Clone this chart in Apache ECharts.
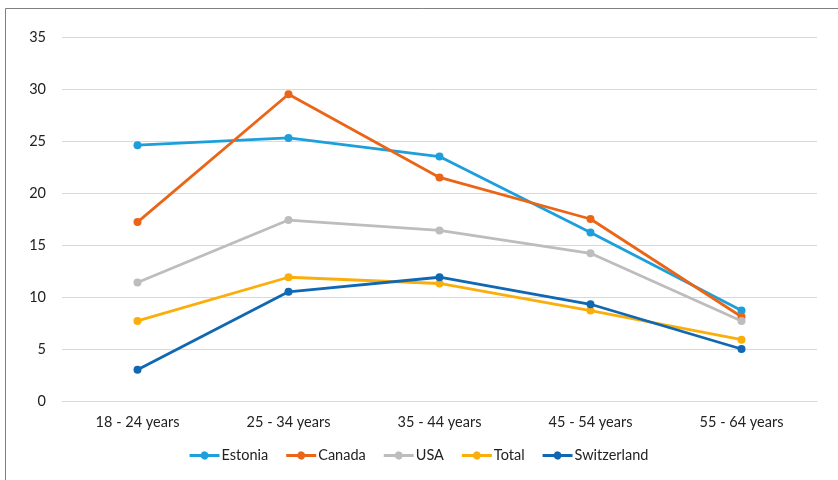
<!DOCTYPE html>
<html>
<head>
<meta charset="utf-8">
<script src="https://cdn.jsdelivr.net/npm/echarts@6/dist/echarts.min.js"></script>
<style>
  html, body { margin: 0; padding: 0; background: #fff; }
  #chart { width: 838px; height: 480px; }
</style>
</head>
<body>
<div id="chart"></div>
<script>
const ageGroups = ['18 - 24 years', '25 - 34 years', '35 - 44 years', '45 - 54 years', '55 - 64 years'];
const estonia = [24.6, 25.3, 23.5, 16.2, 8.7];
const canada = [17.2, 29.5, 21.5, 17.5, 8.1];
const usa = [11.4, 17.4, 16.4, 14.2, 7.7];
const total = [7.7, 11.9, 11.3, 8.7, 5.9];
const switzerland = [3.0, 10.5, 11.9, 9.3, 5.0];

const seriesDefs = [
  { name: 'Estonia', data: estonia, color: '#1c9fdb' },
  { name: 'Canada', data: canada, color: '#eb6517' },
  { name: 'USA', data: usa, color: '#bdbdbd' },
  { name: 'Total', data: total, color: '#fbae0a' },
  { name: 'Switzerland', data: switzerland, color: '#1068b2' }
];

// legend icon: thick line segment with a round marker in the middle
const lineMarkerIcon = 'path://M0,3.5 L11.29,3.5 A4,4 0 0,1 18.71,3.5 L30,3.5 L30,6.5 L18.71,6.5 A4,4 0 0,1 11.29,6.5 L0,6.5 Z';

const font = 'Lato, "Open Sans", sans-serif';
const chart = echarts.init(document.getElementById('chart'), null, { renderer: 'canvas' });
chart.setOption({
  animation: false,
  textStyle: { fontFamily: font },
  graphic: [{
    type: 'rect',
    shape: { x: 5.5, y: 8.5, width: 840, height: 480 },
    style: { fill: 'none', stroke: '#7f7f7f', lineWidth: 1 },
    silent: true
  }],
  grid: { left: 62, right: 21, top: 37, bottom: 79 },
  legend: {
    bottom: 12,
    left: 'center',
    itemWidth: 30,
    itemHeight: 8,
    itemGap: 18,
    textStyle: { fontSize: 14.5, color: '#222', fontFamily: font, padding: [0, 0, 0, -3] },
    data: seriesDefs.map(s => ({ name: s.name, icon: lineMarkerIcon }))
  },
  xAxis: {
    type: 'category',
    data: ageGroups,
    boundaryGap: true,
    axisLine: { show: true, lineStyle: { color: '#d9d9d9' } },
    axisTick: { show: false },
    axisLabel: { fontSize: 14.5, color: '#222', margin: 14, fontFamily: font }
  },
  yAxis: {
    type: 'value',
    min: 0,
    max: 35,
    interval: 5,
    axisLine: { show: false },
    axisTick: { show: false },
    splitLine: { lineStyle: { color: '#d9d9d9', width: 1 } },
    axisLabel: { fontSize: 14.5, color: '#222', margin: 16, fontFamily: font }
  },
  series: seriesDefs.map(s => ({
    name: s.name,
    type: 'line',
    data: s.data,
    color: s.color,
    symbol: 'circle',
    symbolSize: 8,
    lineStyle: { width: 2.8, color: s.color },
    itemStyle: { color: s.color }
  }))
});
</script>
</body>
</html>
